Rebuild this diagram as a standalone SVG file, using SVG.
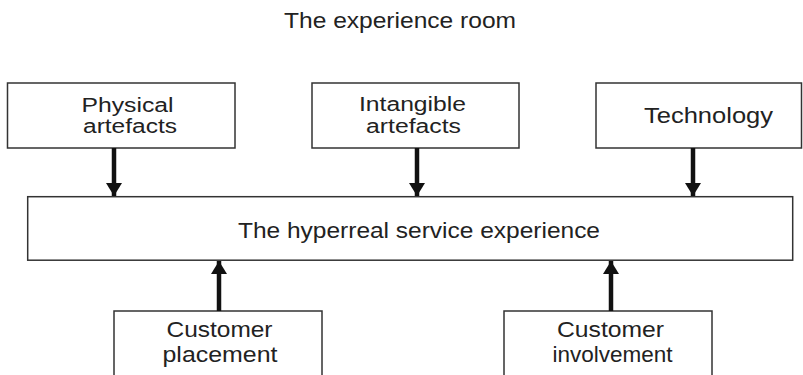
<svg xmlns="http://www.w3.org/2000/svg" width="803" height="375" viewBox="0 0 803 375">
<defs>
<style>
.box{fill:#fff;stroke:#333;stroke-width:1.5}
.t{font-family:"Liberation Sans",Arial,sans-serif;font-size:22px;fill:#222;text-anchor:middle}
.s{font-size:20px}
.c{stroke:#111;stroke-width:4.5;fill:none;marker-end:url(#ah)}
</style>
<marker id="ah" markerUnits="userSpaceOnUse" viewBox="0 0 13 16" refX="13" refY="8" markerWidth="13" markerHeight="16" orient="auto">
<path d="M0,0 L13,8 L0,16 z" fill="#111"/>
</marker>
</defs>
<rect width="803" height="375" fill="#fff"/>
<text class="t" x="400" y="28" textLength="232" lengthAdjust="spacingAndGlyphs">The experience room</text>
<g id="physical">
<rect class="box" x="7.5" y="83" width="227.5" height="65"/>
<text class="t s" x="127.5" y="112" textLength="92" lengthAdjust="spacingAndGlyphs">Physical</text>
<text class="t s" x="130" y="133" textLength="94" lengthAdjust="spacingAndGlyphs">artefacts</text>
</g>
<g id="intangible">
<rect class="box" x="312" y="83" width="207" height="65"/>
<text class="t s" x="412.5" y="111" textLength="107" lengthAdjust="spacingAndGlyphs">Intangible</text>
<text class="t s" x="413.5" y="133" textLength="95" lengthAdjust="spacingAndGlyphs">artefacts</text>
</g>
<g id="technology">
<rect class="box" x="596" y="83" width="205.5" height="65"/>
<text class="t" x="708.5" y="123" textLength="129" lengthAdjust="spacingAndGlyphs">Technology</text>
</g>
<g id="experience">
<rect class="box" x="27.7" y="196.7" width="765" height="63.5"/>
<text class="t" x="419" y="238" textLength="362" lengthAdjust="spacingAndGlyphs">The hyperreal service experience</text>
</g>
<g id="placement">
<rect class="box" x="114" y="311" width="208" height="70"/>
<text class="t" x="219.5" y="337" textLength="106" lengthAdjust="spacingAndGlyphs">Customer</text>
<text class="t" x="220" y="362" textLength="115" lengthAdjust="spacingAndGlyphs">placement</text>
</g>
<g id="involvement">
<rect class="box" x="504" y="311" width="208" height="70"/>
<text class="t" x="610.5" y="337" textLength="107" lengthAdjust="spacingAndGlyphs">Customer</text>
<text class="t" x="612.5" y="362" textLength="120" lengthAdjust="spacingAndGlyphs">involvement</text>
</g>
<g id="connectors">
<line class="c" x1="114" y1="148" x2="114" y2="196"/>
<line class="c" x1="417" y1="148" x2="417" y2="196"/>
<line class="c" x1="693" y1="148" x2="693" y2="196"/>
<line class="c" x1="219" y1="311" x2="219" y2="261"/>
<line class="c" x1="611" y1="311" x2="611" y2="261"/>
</g>
</svg>
